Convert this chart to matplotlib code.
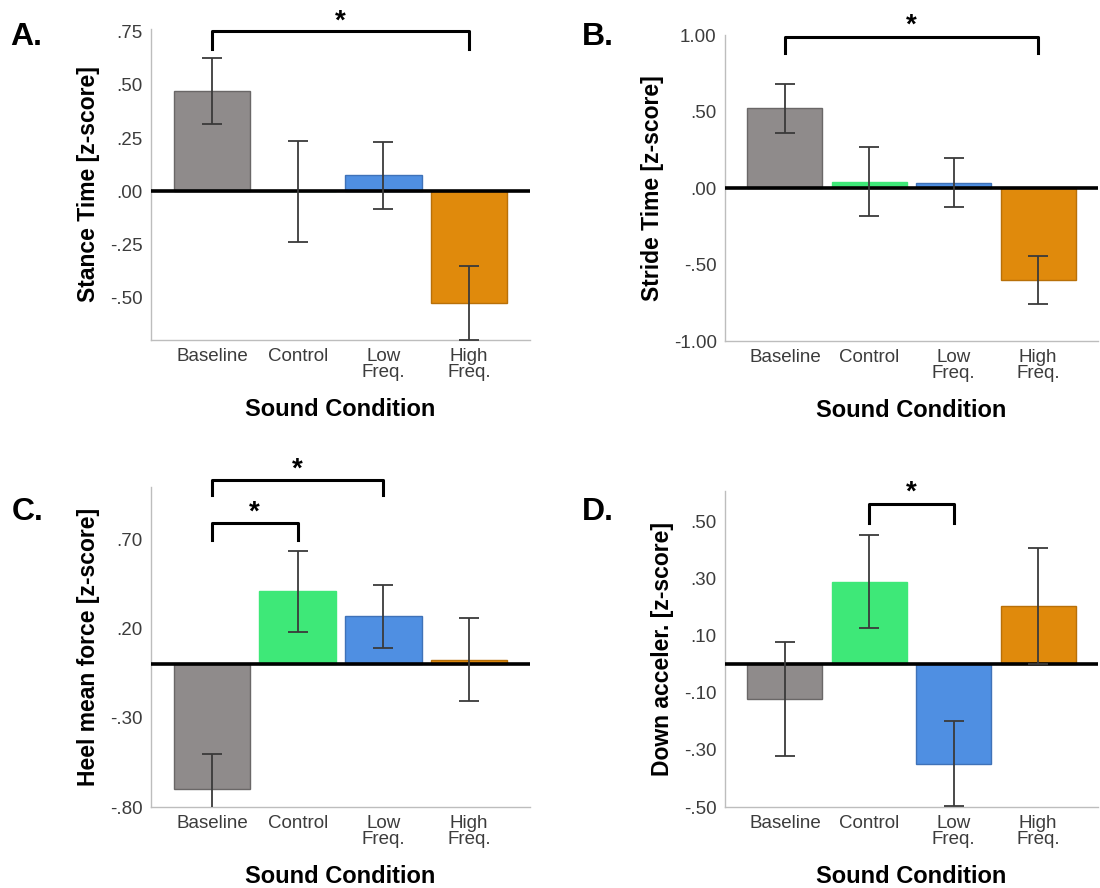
import matplotlib
matplotlib.use('Agg')
from matplotlib import pyplot as plt
import numpy as np

plt.rcParams['font.family'] = ['Liberation Sans', 'DejaVu Sans']

conditions = ['Baseline', 'Control', 'Low\nFreq.', 'High\nFreq.']
bar_colors = ['#8f8b8b', '#3ee878', '#4f8fe2', '#e08a0c']
edge_colors = ['#6a6767', '#3ee878', '#3f72b8', '#b87008']

# panel A - stance time
stance_mean = [0.47, 0.0, 0.074, -0.525]
stance_err = [0.155, 0.237, 0.157, 0.175]
stance_ticks = [-0.50, -0.25, 0.00, 0.25, 0.50, 0.75]
stance_ticklabels = ['-.50', '-.25', '.00', '.25', '.50', '.75']

# panel B - stride time
stride_mean = [0.52, 0.04, 0.035, -0.60]
stride_err = [0.16, 0.225, 0.158, 0.157]
stride_ticks = [-1.0, -0.5, 0.0, 0.5, 1.0]
stride_ticklabels = ['-1.00', '-.50', '.00', '.50', '1.00']

# panel C - heel mean force
heel_mean = [-0.70, 0.41, 0.27, 0.027]
heel_err = [0.195, 0.228, 0.178, 0.232]
heel_ticks = [-0.80, -0.30, 0.20, 0.70]
heel_ticklabels = ['-.80', '-.30', '.20', '.70']

# panel D - down acceleration
accel_mean = [-0.122, 0.289, -0.348, 0.203]
accel_err = [0.2, 0.162, 0.15, 0.203]
accel_ticks = [-0.5, -0.3, -0.1, 0.1, 0.3, 0.5]
accel_ticklabels = ['-.50', '-.30', '-.10', '.10', '.30', '.50']

fig = plt.figure(figsize=(11, 8.88), dpi=100)
W, H = 1100, 888


def px_axes(left, top, right, bottom):
    return fig.add_axes([left / W, 1 - bottom / H, (right - left) / W, (bottom - top) / H])


def draw_panel(ax, means, errs, ylim, ticks, ticklabels, ylabel, brackets):
    x = np.arange(len(means))
    ax.bar(x, means, width=0.89, color=bar_colors, edgecolor=edge_colors, linewidth=1.0, zorder=2)
    ax.errorbar(x, means, yerr=errs, fmt='none', ecolor='#3a3a3a', elinewidth=1.3,
                capsize=7.5, capthick=1.3, zorder=4)
    ax.axhline(0, color='black', linewidth=2.6, zorder=3)
    ax.set_xlim(-0.71, 3.71)
    ax.set_ylim(*ylim)
    ax.set_yticks(ticks)
    ax.set_yticklabels(ticklabels)
    ax.set_xticks(x)
    ax.set_xticklabels(conditions, linespacing=0.9)
    ax.tick_params(length=0, labelsize=13.5, labelcolor='#3c3c3c', pad=6)
    for s in ['top', 'right']:
        ax.spines[s].set_visible(False)
    for s in ['left', 'bottom']:
        ax.spines[s].set_color('#bdbdbd')
        ax.spines[s].set_linewidth(1.0)
    ax.set_ylabel(ylabel, fontsize=16.5, fontweight='bold', labelpad=7)
    ax.set_xlabel('Sound Condition', fontsize=17, fontweight='bold', labelpad=12)
    for (i, j, y, drop, star_y) in brackets:
        ax.plot([i, i, j, j], [y - drop, y, y, y - drop], color='black', linewidth=2.2,
                clip_on=False, zorder=5, solid_joinstyle='round')
        ax.text((i + j) / 2, star_y, '*', ha='center', va='center', fontsize=20,
                fontweight='bold', clip_on=False)


axA = px_axes(151, 29, 530, 340)
draw_panel(axA, stance_mean, stance_err, (-0.70, 0.763), stance_ticks, stance_ticklabels,
           'Stance Time [z-score]', [(0, 3, 0.755, 0.085, 0.80)])

axB = px_axes(725, 35, 1098, 341)
draw_panel(axB, stride_mean, stride_err, (-1.0, 1.0), stride_ticks, stride_ticklabels,
           'Stride Time [z-score]', [(0, 3, 0.99, 0.11, 1.06)])

axC = px_axes(151, 487, 530, 807)
draw_panel(axC, heel_mean, heel_err, (-0.80, 0.995), heel_ticks, heel_ticklabels,
           'Heel mean force [z-score]', [(0, 2, 1.035, 0.085, 1.09), (0, 1, 0.795, 0.10, 0.85)])

axD = px_axes(725, 491, 1098, 807)
draw_panel(axD, accel_mean, accel_err, (-0.50, 0.606), accel_ticks, accel_ticklabels,
           'Down acceler. [z-score]', [(1, 2, 0.56, 0.065, 0.60)])

for lab, (px, py) in zip(['A.', 'B.', 'C.', 'D.'], [(10, 45), (582, 45), (12, 520), (582, 520)]):
    fig.text(px / W, 1 - py / H, lab, fontsize=23, fontweight='bold', ha='left', va='baseline')

fig.savefig('out.png', dpi=100, facecolor='white')
